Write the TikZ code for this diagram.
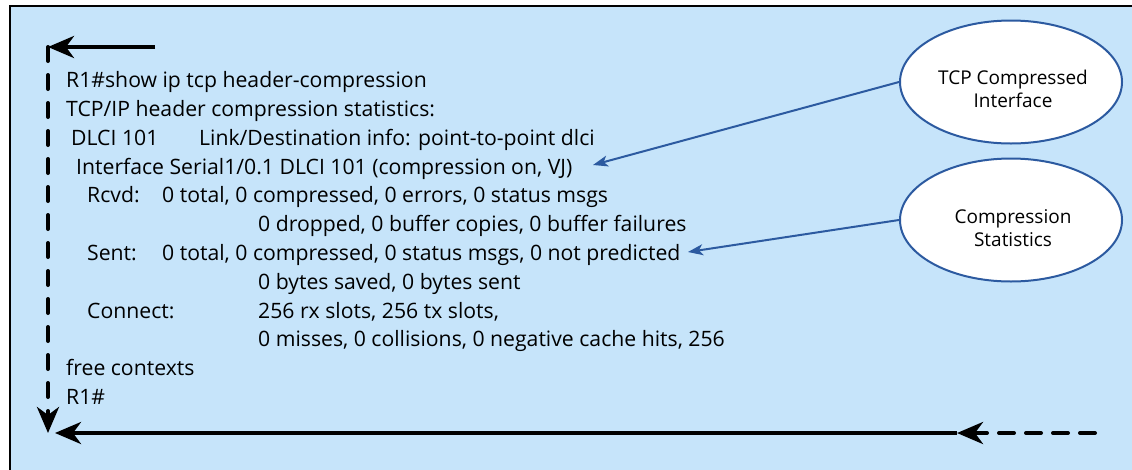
\documentclass[tikz,border=0pt]{standalone}
\usepackage{fontspec}
\setmainfont{Open Sans}
\usetikzlibrary{arrows.meta,shapes.geometric}
\definecolor{panelblue}{HTML}{C6E4FA}
\definecolor{callout}{HTML}{2C5AA0}
\tikzset{
  cli/.style={anchor=base west, inner sep=0pt, font=\fontsize{21.2}{24}\selectfont},
  flowline/.style={line width=4pt, black},
  flowhead/.style={-{Stealth[length=26pt, width=22pt, inset=8pt]}},
  dashflow/.style={flowline, line cap=round, dash pattern=on 14pt off 14pt},
  dashflowh/.style={flowline, line cap=round, dash pattern=on 15pt off 12pt},
  bubble/.style={ellipse, draw=callout, line width=2pt, fill=white,
    minimum width=222pt, minimum height=123pt, inner sep=0pt},
  bubbletext/.style={align=center, inner sep=0pt,
    font=\fontsize{19}{23.5}\selectfont},
  pointer/.style={draw=callout, line width=2pt,
    -{Stealth[length=15pt, width=11pt, inset=4pt]}}
}
\begin{document}
\begin{tikzpicture}[x=1pt, y=-1pt]
\useasboundingbox (0,0) rectangle (1132,469);
\clip (0,0) rectangle (1132,469);
\fill[white] (0,0) rectangle (1132,469);
% framed panel
\draw[fill=panelblue, line width=2.5pt] (10,6) rectangle (1150,490);

% command output
\node[cli] (l1) at (66,87) {R1\#show ip tcp header-compression};
\node[cli] (l2) at (66,116) {TCP/IP header compression statistics:};
\node[cli] (l3a) at (71,145) {DLCI 101};
\node[cli] (l3b) at (199,145) {Link/Destination info: point-to-point dlci};
\node[cli] (l4) at (76,174) {Interface Serial1/0.1 DLCI 101 (compression on, VJ)};
\node[cli] (l5a) at (87,202) {Rcvd:};
\node[cli] (l5b) at (162,202) {0 total, 0 compressed, 0 errors, 0 status msgs};
\node[cli] (l6) at (258,231) {0 dropped, 0 buffer copies, 0 buffer failures};
\node[cli] (l7a) at (87,260) {Sent:};
\node[cli] (l7b) at (162,260) {0 total, 0 compressed, 0 status msgs, 0 not predicted};
\node[cli] (l8) at (258,289) {0 bytes saved, 0 bytes sent};
\node[cli] (l9a) at (87,318) {Connect:};
\node[cli] (l9b) at (258,318) {256 rx slots, 256 tx slots,};
\node[cli] (l10) at (258,346) {0 misses, 0 collisions, 0 negative cache hits, 256};
\node[cli] (l11) at (66,375) {free contexts};
\node[cli] (l12) at (66,404) {R1\#};

% flow arrows round the output
\coordinate (topstart) at (155,47);
\coordinate (corner) at (48,47);
\coordinate (downend) at (48,433);
\coordinate (tailstart) at (1095,433);
\coordinate (tailend) at (957,433);
\coordinate (leftend) at (55,433);
\draw[flowline, flowhead] (topstart) -- (corner);
\draw[dashflow, flowhead] (corner) -- (downend);
\draw[flowline, flowhead] (tailend) -- (leftend);
\draw[dashflowh, flowhead] (tailstart) -- (tailend);

% callouts
\node[bubble] (e1) at (1011,82) {};
\node[bubbletext] (t1) at (1013,89) {TCP Compressed\\Interface};
\node[bubble] (e2) at (1011,220) {};
\node[bubbletext] (t2) at (1013,228) {Compression\\Statistics};
\coordinate (p1) at (593,165);
\coordinate (p2) at (688,252);
\draw[pointer] (e1.west) -- (p1);
\draw[pointer] (e2.west) -- (p2);
\end{tikzpicture}
\end{document}
